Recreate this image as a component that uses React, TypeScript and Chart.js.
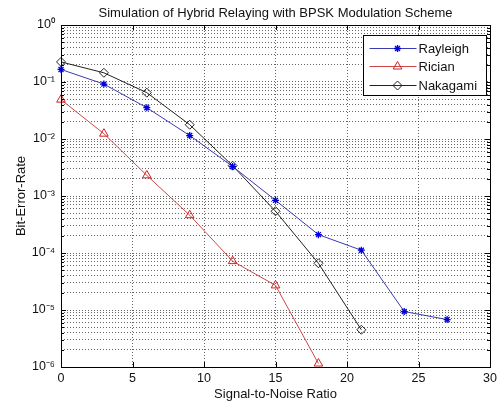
import React, { useEffect, useRef } from 'react';
import { Chart, registerables } from 'chart.js';
import { drawPoint } from 'chart.js/helpers';

Chart.register(...registerables);

const titleText = 'Simulation of Hybrid Relaying with BPSK Modulation Scheme';
const xLabel = 'Signal-to-Noise Ratio';
const yLabel = 'Bit-Error-Rate';

const xTicks = [0, 5, 10, 15, 20, 25, 30];
const yExponents = [-6, -5, -4, -3, -2, -1, 0];
const minorMultipliers = [2, 3, 4, 5, 6, 7, 8, 9];

const snrRayleigh = [0, 3, 6, 9, 12, 15, 18, 21, 24, 27];
const berRayleigh = [0.166, 0.092, 0.0354, 0.0115, 0.0033, 8.4e-4, 2.1e-4, 1.12e-4, 9.4e-6, 6.8e-6];

const snrRician = [0, 3, 6, 9, 12, 15, 18];
const berRician = [0.049, 0.0124, 0.0023, 4.6e-4, 7.2e-5, 2.7e-5, 1.15e-6];

const snrNakagami = [0, 3, 6, 9, 12, 15, 18, 21];
const berNakagami = [0.225, 0.145, 0.065, 0.0178, 0.0034, 5.4e-4, 6.6e-5, 4.5e-6];

const FONT = "'Liberation Sans', Arial, Helvetica, sans-serif";
const TEXT = '#111';

const SUP: Record<string, string> = {
  '0': '\u2070', '1': '\u00B9', '2': '\u00B2', '3': '\u00B3', '4': '\u2074',
  '5': '\u2075', '6': '\u2076', '7': '\u2077', '8': '\u2078', '9': '\u2079', '-': '\u207B',
};

const isPow10 = (v: number) => {
  const e = Math.log10(v);
  return Math.abs(e - Math.round(e)) < 1e-9;
};

const fmtY = (v: number) => {
  if (!isPow10(v)) return '';
  const e = String(Math.round(Math.log10(v)));
  return '10' + e.split('').map((c) => SUP[c] || c).join('');
};

const framePlugin = {
  id: 'matlabFrame',
  afterDraw(chart: any) {
    const { ctx, chartArea } = chart;
    const { left, right, top, bottom } = chartArea;
    const xs = chart.scales.x;
    const ys = chart.scales.y;
    ctx.save();

    // title centred over the axes box
    ctx.fillStyle = TEXT;
    ctx.font = `13px ${FONT}`;
    ctx.textAlign = 'center';
    ctx.textBaseline = 'middle';
    ctx.fillText(titleText, (left + right) / 2, 13);

    ctx.strokeStyle = '#000';
    ctx.lineWidth = 1;
    ctx.setLineDash([]);
    ctx.beginPath();
    ys.ticks.forEach((t: any) => {
      const p = Math.round(ys.getPixelForValue(t.value)) + 0.5;
      const len = isPow10(t.value) ? 5 : 3;
      ctx.moveTo(left, p);
      ctx.lineTo(left + len, p);
      ctx.moveTo(right, p);
      ctx.lineTo(right - len, p);
    });
    xs.ticks.forEach((t: any) => {
      const p = Math.round(xs.getPixelForValue(t.value)) + 0.5;
      ctx.moveTo(p, bottom);
      ctx.lineTo(p, bottom - 5);
      ctx.moveTo(p, top);
      ctx.lineTo(p, top + 5);
    });
    ctx.stroke();
    ctx.strokeRect(Math.round(left) + 0.5, Math.round(top) + 0.5, Math.round(right - left), Math.round(bottom - top));

    // legend inside the axes (upper right)
    const bw = 123;
    const bh = 60;
    const bx = Math.round(right) - 127 + 0.5;
    const by = Math.round(top) + 10 + 0.5;
    ctx.fillStyle = '#fff';
    ctx.fillRect(bx, by, bw, bh);
    ctx.strokeStyle = '#000';
    ctx.strokeRect(bx, by, bw, bh);
    chart.data.datasets.forEach((ds: any, i: number) => {
      const y = Math.round(by + 12 + i * 18.5) + 0.5;
      ctx.strokeStyle = ds.borderColor;
      ctx.lineWidth = 1;
      ctx.beginPath();
      ctx.moveTo(bx + 6, y);
      ctx.lineTo(bx + 53, y);
      ctx.stroke();
      ctx.strokeStyle = ds.pointBorderColor;
      ctx.fillStyle = 'rgba(0,0,0,0)';
      ctx.lineWidth = ds.pointBorderWidth;
      drawPoint(ctx, { pointStyle: ds.pointStyle, radius: ds.pointRadius, borderWidth: ds.pointBorderWidth, rotation: 0 } as any, bx + 34, y);
      ctx.fillStyle = TEXT;
      ctx.font = `13px ${FONT}`;
      ctx.textBaseline = 'middle';
      ctx.textAlign = 'left';
      ctx.fillText(ds.label, bx + 55, y + 1);
    });
    ctx.restore();
  },
};

export default function App() {
  const ref = useRef<HTMLCanvasElement>(null);

  useEffect(() => {
    const canvas = ref.current;
    if (!canvas) return;
    Chart.defaults.font.family = FONT;

    const toPts = (xs: number[], ys: number[]) => xs.map((x, i) => ({ x, y: ys[i] }));

    const yTickValues: number[] = [];
    yExponents.forEach((e, i) => {
      yTickValues.push(Math.pow(10, e));
      if (i < yExponents.length - 1) minorMultipliers.forEach((m) => yTickValues.push(m * Math.pow(10, e)));
    });

    const grid = { color: 'rgba(0,0,0,0.6)', lineWidth: 1, drawTicks: false, tickLength: 0 };
    const border = { display: false, dash: [1, 2] };

    const chart = new Chart(canvas, {
      type: 'line',
      data: {
        datasets: [
          {
            label: 'Rayleigh',
            data: toPts(snrRayleigh, berRayleigh),
            borderColor: '#3a3ab4',
            borderWidth: 1,
            pointStyle: 'star',
            pointRadius: 3.5,
            pointBorderColor: '#0000e0',
            pointBackgroundColor: 'rgba(0,0,0,0)',
            pointBorderWidth: 1.3,
            tension: 0,
            clip: false,
          } as any,
          {
            label: 'Rician',
            data: toPts(snrRician, berRician),
            borderColor: '#cc4848',
            borderWidth: 1,
            pointStyle: 'triangle',
            pointRadius: 5,
            pointBorderColor: '#d02020',
            pointBackgroundColor: 'rgba(0,0,0,0)',
            pointBorderWidth: 1,
            tension: 0,
            clip: false,
          } as any,
          {
            label: 'Nakagami',
            data: toPts(snrNakagami, berNakagami),
            borderColor: '#222',
            borderWidth: 1,
            pointStyle: 'rectRot',
            pointRadius: 4.5,
            pointBorderColor: '#222',
            pointBackgroundColor: 'rgba(0,0,0,0)',
            pointBorderWidth: 1,
            tension: 0,
            clip: false,
          } as any,
        ],
      },
      options: {
        responsive: false,
        animation: false,
        devicePixelRatio: 1,
        layout: { padding: { left: 0, right: 10, top: 25, bottom: 0 } },
        plugins: {
          legend: { display: false },
          tooltip: { enabled: false },
          title: { display: false },
        },
        scales: {
          x: {
            type: 'linear',
            min: 0,
            max: 30,
            afterBuildTicks: (s: any) => {
              s.ticks = xTicks.map((v) => ({ value: v }));
            },
            afterFit: (s: any) => {
              s.height = 38;
            },
            ticks: { color: TEXT, font: { size: 12.5 }, padding: 4, autoSkip: false, maxRotation: 0 },
            grid,
            border,
            title: { display: true, text: xLabel, color: TEXT, font: { size: 13 }, padding: 3 },
          },
          y: {
            type: 'logarithmic',
            min: 1e-6,
            max: 1,
            afterBuildTicks: (s: any) => {
              s.ticks = yTickValues.map((v) => ({ value: v }));
            },
            afterFit: (s: any) => {
              s.width = 61;
            },
            ticks: { color: TEXT, font: { size: 12.5 }, padding: 6, autoSkip: false, callback: (v: any) => fmtY(Number(v)) },
            grid,
            border,
            title: { display: true, text: yLabel, color: TEXT, font: { size: 13 }, padding: 14 },
          },
        },
      },
      plugins: [framePlugin],
    } as any);

    return () => chart.destroy();
  }, []);

  return (
    <div style={{ position: 'fixed', left: 0, top: 0, width: 501, height: 405, background: '#fff' }}>
      <canvas ref={ref} width={501} height={405} style={{ width: 501, height: 405, display: 'block' }} />
    </div>
  );
}
